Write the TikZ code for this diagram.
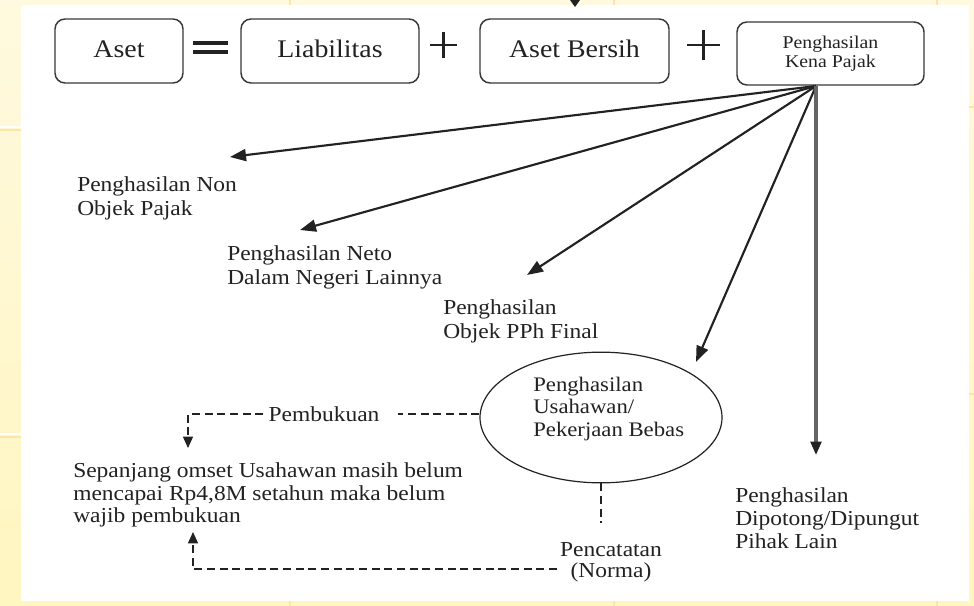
\documentclass[tikz,border=0pt]{standalone}
\usepackage{fontspec}
\setmainfont{Liberation Serif}[FakeStretch=1.1]
\usetikzlibrary{arrows.meta,shapes.geometric,calc}

\definecolor{ink}{HTML}{222222}
\definecolor{slidetop}{HTML}{FFF9DF}
\definecolor{slidebot}{HTML}{FFF6C0}
\definecolor{seam}{HTML}{FBE6A4}

\begin{document}
\begin{tikzpicture}[x=0.75pt,y=-0.75pt,
  box/.style={draw=ink!90, line width=1.1pt, rounded corners=7.5pt, text=ink,
              minimum height=48pt, inner sep=0pt},
  lbl/.style={text=ink, align=left, anchor=west, inner sep=0pt,
              font=\fontsize{16}{18}\selectfont},
  fanarrow/.style={draw=ink, line width=1.6pt, -{Triangle[length=12pt,width=9pt]}},
  dashlink/.style={draw=ink, line width=1.1pt, dash pattern=on 6pt off 3.5pt},
  dashtip/.style={-{Triangle[length=8.5pt,width=7.5pt]}},
  opsign/.style={draw=ink, line width=2.2pt}]

  % slide background and white panel
  \useasboundingbox (0,0) rectangle (974,606);
  \fill[top color=slidetop, bottom color=slidebot] (0,0) rectangle (974,606);
  \foreach \yy in {130,437} {
    \draw[seam, line width=1.5pt] (0,\yy) -- (21,\yy);
    \draw[white, line width=0.8pt] (0,\yy-3) -- (21,\yy-3);
  }
  \foreach \yy in {107,394} {
    \draw[seam, line width=1.5pt] (969,\yy) -- (974,\yy);
  }
  \foreach \xx in {290,614,937} {
    \draw[seam, line width=1.5pt] (\xx,0) -- (\xx,5);
    \draw[seam, line width=1.5pt] (\xx,601) -- (\xx,606);
  }
  \fill[white] (21,5) rectangle (969,601);

  % incoming arrowhead at the top edge
  \fill[ink] (570,0) -- (580,0) -- (575,7) -- cycle;

  % equation row
  \node[box, minimum width=96pt, text depth=3pt, font=\fontsize{19}{22}\selectfont] (aset) at (119,51) {Aset};
  \node[box, minimum width=133.5pt, text depth=3pt, font=\fontsize{19}{22}\selectfont] (liab) at (330,51) {Liabilitas};
  \node[box, minimum width=141.75pt, text depth=3pt, font=\fontsize{19}{22}\selectfont] (bersih) at (574.5,51) {Aset Bersih};
  \node[box, minimum width=140.25pt, minimum height=47.25pt, align=center,
        font=\fontsize{13.5}{14.5}\selectfont] (pkp) at (830.5,53.5) {Penghasilan\\Kena Pajak};

  \draw[opsign, line width=2.3pt] (193,43) -- (228,43) (193,52) -- (228,52);
  \draw[opsign] (430,45) -- (457,45) (443.5,32) -- (443.5,58);
  \draw[opsign] (687,45) -- (720,45) (703.5,30) -- (703.5,60);

  % income categories
  \node[lbl] (nonobj) at (77,198) {Penghasilan Non\\Objek Pajak};
  \node[lbl] (neto) at (227,267.5) {Penghasilan Neto\\Dalam Negeri Lainnya};
  \node[lbl] (final) at (443,321) {Penghasilan\\Objek PPh Final};
  \node[draw=ink, line width=0.9pt, ellipse, minimum width=181.5pt, minimum height=98pt,
        inner sep=0pt] (usaha) at (601,417.5) {};
  \node[lbl, font=\fontsize{15.5}{17}\selectfont] (usahatext) at (533,409)
        {Penghasilan\\Usahawan/\\Pekerjaan Bebas};
  \node[lbl, font=\fontsize{16}{17.2}\selectfont] (potong) at (735,518) {Penghasilan\\Dipotong/Dipungut\\Pihak Lain};

  % bookkeeping branch
  \node[lbl, font=\fontsize{16}{16.8}\selectfont] (sepa) at (73,495)
        {Sepanjang omset Usahawan masih belum\\mencapai Rp4,8M setahun maka belum\\wajib pembukuan};
  \node[lbl, anchor=center, align=center] (pemb) at (324,414) {Pembukuan};
  \node[lbl, anchor=center, align=center, font=\fontsize{16}{16}\selectfont] (pencat) at (611,562) {Pencatatan\\(Norma)};

  % fan of arrows from taxable income
  \coordinate (fan) at (816,86);
  \coordinate (tipnon) at (230,157);
  \coordinate (tipneto) at (300,230);
  \coordinate (tipfinal) at (527,275);
  \coordinate (tipusaha) at (696,362);
  \coordinate (tippotong) at (816,455);
  \draw[fanarrow] (fan) -- (tipnon);
  \draw[fanarrow] (fan) -- (tipneto);
  \draw[fanarrow] (fan) -- (tipfinal);
  \draw[fanarrow] (fan) -- (tipusaha);
  \draw[draw=ink!70, line width=2.3pt, -{Triangle[length=10pt,width=8pt,color=ink]}] (fan) -- (tippotong);

  % dashed links of the business income node
  \coordinate (pembend) at (188,448);
  \coordinate (lowrun) at (557,569);
  \coordinate (pencend) at (193,532);
  \draw[dashlink] (usaha.west |- pemb.east) -- ($(pemb.east)+(18,0)$);
  \draw[dashlink, dashtip] ($(pemb.west)+(-5,0)$) -| (pembend);
  \draw[dashlink] (usaha.south) -- ++(0,40);
  \draw[dashlink, dashtip] (lowrun) -| (pencend);
\end{tikzpicture}
\end{document}
